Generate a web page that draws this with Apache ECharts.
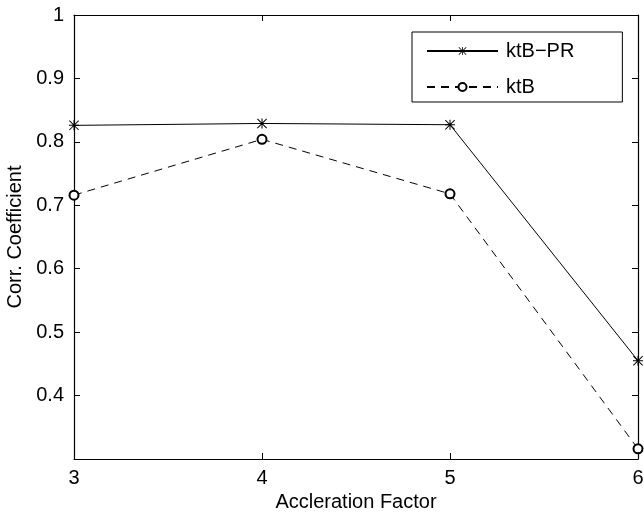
<!DOCTYPE html>
<html style="height: 100%">
<head>
    <meta charset="UTF-8">
    <script src="https://cdn.jsdelivr.net/npm/echarts@6/dist/echarts.min.js"></script>
</head>
<body style="height: 100%; margin: 0; background: #fff">
    <div id="main" style="width: 644px; height: 513px;"></div>
    <script type="text/javascript">
        // data
        var factors = [3, 4, 5, 6];
        var ktbPR = [0.826, 0.829, 0.827, 0.455];
        var ktb = [0.716, 0.804, 0.718, 0.316];
        var seriesNames = ['ktB\u2212PR', 'ktB'];

        var myChart = echarts.init(document.getElementById('main'));

        // asterisk marker like matlab '*'
        var star = 'path://M4.5 0L5.5 0L5.5 10L4.5 10Z M0 4.5L10 4.5L10 5.5L0 5.5Z M0.7 0L10 9.3L9.3 10L0 0.7Z M9.3 0L10 0.7L0.7 10L0 9.3Z';

        function pairs(ys) {
            return factors.map(function (x, i) { return [x, ys[i]]; });
        }

        var font = 'Liberation Sans, Arial, sans-serif';
        var axisLine = { show: true, lineStyle: { color: '#000', width: 1.2 } };
        var tick = { show: true, inside: true, length: 6, lineStyle: { color: '#000' } };

        var option = {
            animation: false,
            backgroundColor: '#fff',
            textStyle: { fontFamily: font },
            grid: { left: 74, right: 6, top: 15, bottom: 54, outerBoundsMode: 'none', containLabel: false },
            legend: {
                left: 412,
                top: 32,
                orient: 'vertical',
                itemWidth: 71,
                itemHeight: 10,
                itemGap: 16,
                padding: [9, 48, 5, 14],
                borderColor: '#000',
                borderWidth: 1,
                borderRadius: 0,
                backgroundColor: '#fff',
                textStyle: { fontFamily: font, fontSize: 20, lineHeight: 20, color: '#000', padding: [0, 0, 0, 3] },
                data: seriesNames
            },
            xAxis: [{
                type: 'value',
                min: 3, max: 6, interval: 1,
                name: 'Accleration Factor',
                nameLocation: 'middle',
                nameGap: 33,
                nameTextStyle: { fontSize: 20, color: '#000' },
                axisLine: axisLine,
                axisTick: tick,
                splitLine: { show: false },
                axisLabel: { fontSize: 20, color: '#000', margin: 9 }
            }, {
                type: 'value', position: 'top',
                min: 3, max: 6, interval: 1,
                axisLine: axisLine,
                axisTick: tick,
                splitLine: { show: false },
                axisLabel: { show: false }
            }],
            yAxis: [{
                type: 'value',
                min: 0.3, max: 1, interval: 0.1,
                name: 'Corr. Coefficient',
                nameLocation: 'middle',
                nameGap: 47,
                nameTextStyle: { fontSize: 20, color: '#000' },
                axisLine: axisLine,
                axisTick: tick,
                splitLine: { show: false },
                axisLabel: { fontSize: 20, color: '#000', margin: 10, showMinLabel: false }
            }, {
                type: 'value', position: 'right',
                min: 0.3, max: 1, interval: 0.1,
                axisLine: axisLine,
                axisTick: tick,
                splitLine: { show: false },
                axisLabel: { show: false }
            }],
            series: [{
                name: seriesNames[0],
                type: 'line',
                data: pairs(ktbPR),
                symbol: star,
                symbolSize: 10,
                itemStyle: { color: '#000' },
                lineStyle: { color: '#000', width: 1, type: 'solid' }
            }, {
                name: seriesNames[1],
                type: 'line',
                data: pairs(ktb),
                symbol: 'emptyCircle',
                symbolSize: 9,
                itemStyle: { color: '#000', borderColor: '#000', borderWidth: 1 },
                lineStyle: { color: '#000', width: 1, type: [8, 6] }
            }]
        };

        myChart.setOption(option);
    </script>
</body>
</html>
